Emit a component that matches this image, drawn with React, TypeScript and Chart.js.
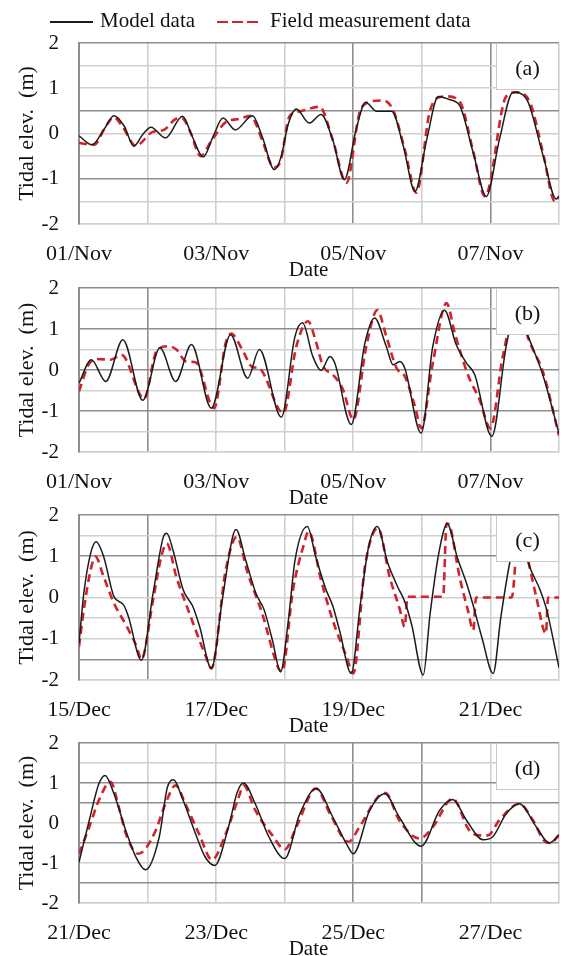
import React, { useEffect, useRef } from "react";
import { Chart, registerables } from "chart.js";

Chart.register(...registerables);

// ---------- data ----------
const X_LABELS_NOV = ["01/Nov", "", "03/Nov", "", "05/Nov", "", "07/Nov", ""];
const X_LABELS_DEC_A = ["15/Dec", "", "17/Dec", "", "19/Dec", "", "21/Dec", ""];
const X_LABELS_DEC_B = ["21/Dec", "", "23/Dec", "", "25/Dec", "", "27/Dec", ""];
const Y_LABELLED = [-2, -1, 0, 1, 2];

const SERIES_NAMES = ["Model data", "Field measurement data"];
const PANEL_TAGS = ["(a)", "(b)", "(c)", "(d)"];

// [day offset, tidal elevation (m)]
const A_MODEL: [number, number][] = [
  [0, -0.05], [0.19, -0.25], [0.36, 0.08], [0.51, 0.39], [0.66, 0.16], [0.8, -0.28],
  [0.93, -0.02], [1.05, 0.14], [1.26, -0.1], [1.51, 0.38], [1.65, -0.06], [1.81, -0.52],
  [1.96, -0.05], [2.1, 0.34], [2.28, 0.08], [2.53, 0.39], [2.67, -0.06], [2.85, -0.8],
  [2.95, -0.5], [3.05, 0.2], [3.17, 0.54], [3.36, 0.23], [3.53, 0.42], [3.7, -0.14],
  [3.87, -1.02], [4.04, 0.08], [4.18, 0.69], [4.34, 0.49], [4.56, 0.49], [4.73, -0.28],
  [4.9, -1.28], [5.07, -0.14], [5.24, 0.82], [5.4, 0.75], [5.55, 0.62], [5.75, -0.43],
  [5.94, -1.39], [6.13, -0.14], [6.33, 0.91], [6.52, 0.78], [6.77, -0.5], [6.96, -1.45],
  [7.0, -1.38],
];
const A_FIELD: [number, number][] = [
  [0, -0.21], [0.22, -0.25], [0.39, 0.16], [0.51, 0.36], [0.63, 0.16], [0.83, -0.27],
  [1.07, 0.03], [1.24, 0.08], [1.41, 0.32], [1.5, 0.34], [1.63, 0.01], [1.77, -0.5],
  [1.94, -0.14], [2.14, 0.25], [2.33, 0.32], [2.5, 0.39], [2.67, -0.14], [2.84, -0.75],
  [2.94, -0.6], [3.07, 0.38], [3.22, 0.49], [3.51, 0.59], [3.7, -0.14], [3.9, -1.09],
  [4.09, 0.45], [4.19, 0.67], [4.43, 0.73], [4.58, 0.52], [4.75, -0.35], [4.92, -1.31],
  [5.11, 0.45], [5.22, 0.78], [5.36, 0.82], [5.55, 0.71], [5.75, -0.4], [5.92, -1.39],
  [6.23, 0.82], [6.38, 0.91], [6.57, 0.71], [6.77, -0.45], [6.94, -1.5], [7.0, -1.42],
];

const B_MODEL: [number, number][] = [
  [0, -0.32], [0.18, 0.25], [0.39, -0.28], [0.64, 0.74], [0.93, -0.74], [1.18, 0.54],
  [1.41, -0.28], [1.64, 0.62], [1.93, -0.93], [2.21, 0.86], [2.46, -0.2], [2.63, 0.5],
  [2.95, -1.15], [3.15, 0.82], [3.26, 1.15], [3.41, 0.33], [3.53, -0.01], [3.66, 0.33],
  [3.73, 0.17], [3.97, -1.33], [4.17, 0.66], [4.31, 1.27], [4.48, 0.58], [4.58, 0.13],
  [4.68, 0.21], [4.75, 0.05], [4.99, -1.54], [5.16, 0.58], [5.33, 1.46], [5.5, 0.62],
  [5.65, 0.17], [5.77, -0.11], [6.02, -1.62], [6.23, 0.58], [6.38, 1.55], [6.55, 0.82],
  [6.77, -0.15], [7.0, -1.55],
];
const B_FIELD: [number, number][] = [
  [0, -0.52], [0.14, 0.13], [0.26, 0.27], [0.46, 0.25], [0.62, 0.37], [0.95, -0.7],
  [1.13, 0.46], [1.3, 0.58], [1.42, 0.5], [1.56, 0.21], [1.7, 0.19], [1.97, -0.93],
  [2.14, 0.66], [2.22, 0.89], [2.38, 0.5], [2.53, 0.07], [2.62, 0.05], [2.98, -1.05],
  [3.17, 0.58], [3.34, 1.19], [3.46, 0.66], [3.56, 0.09], [3.7, -0.11], [3.85, -0.48],
  [4.0, -1.21], [4.19, 0.58], [4.35, 1.46], [4.48, 0.83], [4.63, 0.05], [4.75, -0.15],
  [4.9, -0.89], [4.99, -1.42], [5.16, 0.17], [5.36, 1.63], [5.48, 0.9], [5.67, -0.11],
  [5.84, -0.72], [6.0, -1.42], [6.18, 0.33], [6.4, 1.65], [6.55, 0.78], [6.77, -0.07],
  [7.0, -1.6],
];

const C_MODEL: [number, number][] = [
  [0, -1.11], [0.07, 0.1], [0.17, 1.07], [0.25, 1.35], [0.36, 0.99], [0.51, 0.02],
  [0.65, -0.18], [0.72, -0.46], [0.91, -1.52], [1.08, 0.1], [1.23, 1.47], [1.28, 1.56],
  [1.37, 1.15], [1.52, 0.18], [1.66, -0.22], [1.76, -0.71], [1.93, -1.72], [2.09, -0.06],
  [2.24, 1.47], [2.29, 1.65], [2.43, 0.91], [2.58, 0.1], [2.7, -0.3], [2.82, -1.03],
  [2.94, -1.8], [3.05, -0.6], [3.15, 0.9], [3.33, 1.72], [3.45, 1.0], [3.6, 0.2],
  [3.7, -0.2], [3.8, -0.8], [3.97, -1.84], [4.1, -0.2], [4.22, 1.2], [4.35, 1.72],
  [4.5, 0.85], [4.65, 0.25], [4.75, -0.1], [4.85, -0.65], [5.02, -1.88], [5.12, -0.4],
  [5.25, 1.1], [5.37, 1.78], [5.52, 0.95], [5.65, 0.35], [5.75, -0.2], [5.88, -1.0],
  [6.04, -1.84], [6.15, -0.5], [6.28, 0.83], [6.4, 1.7], [6.57, 0.75], [6.72, 0.2],
  [6.82, -0.3], [7.0, -1.7],
];
const C_FIELD: [number, number][] = [
  [0, -1.19], [0.07, -0.3], [0.17, 0.67], [0.24, 0.99], [0.36, 0.5], [0.51, -0.14],
  [0.7, -0.71], [0.84, -1.19], [0.91, -1.5], [1.08, -0.06], [1.2, 0.99], [1.28, 1.31],
  [1.42, 0.5], [1.61, -0.38], [1.85, -1.43], [1.93, -1.72], [2.14, 0.67], [2.3, 1.47],
  [2.46, 0.59], [2.67, -0.38], [2.91, -1.72], [2.96, -1.8], [3.12, 0.18], [3.27, 1.23],
  [3.35, 1.6], [3.53, 0.42], [3.7, -0.55], [3.9, -1.43], [4.0, -1.84], [4.17, 0.75],
  [4.36, 1.68], [4.53, 0.5], [4.68, -0.3], [4.75, -0.71], [4.79, 0.02], [5.31, 0.02],
  [5.36, 1.8], [5.41, 1.72], [5.55, 0.5], [5.67, -0.3], [5.75, -0.79], [5.79, 0.0],
  [6.31, 0.0], [6.42, 1.8], [6.55, 0.9], [6.67, 0.0], [6.81, -0.87], [6.84, 0.0],
  [7.0, 0.0],
];

const D_MODEL: [number, number][] = [
  [0, -0.98], [0.15, 0.07], [0.29, 0.98], [0.38, 1.19], [0.51, 0.73], [0.68, -0.18],
  [0.83, -0.85], [0.97, -1.17], [1.17, -0.35], [1.29, 0.9], [1.38, 1.08], [1.5, 0.65],
  [1.7, -0.27], [1.84, -0.85], [1.98, -1.06], [2.18, -0.1], [2.31, 0.78], [2.4, 1.0],
  [2.57, 0.48], [2.77, -0.35], [3.0, -0.89], [3.22, 0.23], [3.46, 0.86], [3.7, 0.15],
  [3.9, -0.52], [4.0, -0.77], [4.24, 0.32], [4.46, 0.73], [4.67, 0.15], [4.99, -0.58],
  [5.26, 0.32], [5.45, 0.59], [5.65, 0.07], [5.89, -0.42], [6.03, -0.35], [6.23, 0.23],
  [6.42, 0.48], [6.67, -0.1], [6.86, -0.5], [7.0, -0.3],
];
const D_FIELD: [number, number][] = [
  [0, -0.77], [0.15, -0.1], [0.29, 0.57], [0.46, 1.03], [0.58, 0.4], [0.7, -0.35],
  [0.87, -0.77], [0.97, -0.64], [1.12, -0.18], [1.26, 0.48], [1.41, 0.94], [1.55, 0.48],
  [1.75, -0.27], [1.94, -0.92], [2.14, -0.27], [2.33, 0.65], [2.4, 0.94], [2.57, 0.32],
  [2.82, -0.31], [3.0, -0.66], [3.17, -0.1], [3.41, 0.82], [3.46, 0.86], [3.66, 0.23],
  [3.93, -0.47], [4.09, -0.1], [4.38, 0.69], [4.47, 0.75], [4.67, 0.07], [4.97, -0.39],
  [5.16, -0.1], [5.45, 0.61], [5.69, -0.18], [5.84, -0.31], [5.96, -0.31], [6.13, 0.07],
  [6.42, 0.48], [6.62, 0.07], [6.8, -0.47], [6.88, -0.5], [7.0, -0.3],
];

// ---------- styles ----------
const SERIF = "'Liberation Serif', 'Times New Roman', serif";
const TEXT = "#111111";
const BLACK_LINE = "#1c1c1c";
const RED_LINE = "#d0232a";
const GRID_DARK = "#8e8e8e";
const GRID_LIGHT = "#d0d0d0";
const CLEAR = "rgba(0,0,0,0)";
const X_AXIS_H = 59;
const Y_AXIS_W = 79;

type PanelProps = {
  top: number;
  height: number;
  padTop: number;
  model: [number, number][];
  field: [number, number][];
  labels: string[];
  tag: string;
  legend?: boolean;
  darkX: number[];
  darkY: number[];
};

const near = (arr: number[], v: number) => arr.some((d) => Math.abs(d - v) < 1e-6);

const legendPlugin = {
  id: "topLegend",
  afterDraw(chart: any) {
    const ctx = chart.ctx;
    const names = chart.data.datasets.map((d: any) => d.label);
    ctx.save();
    ctx.font = `21px ${SERIF}`;
    ctx.fillStyle = TEXT;
    ctx.textBaseline = "middle";
    ctx.textAlign = "left";
    ctx.lineWidth = 2;
    ctx.strokeStyle = BLACK_LINE;
    ctx.beginPath();
    ctx.moveTo(50, 22);
    ctx.lineTo(93, 22);
    ctx.stroke();
    ctx.fillText(names[0], 100, 21);
    ctx.strokeStyle = RED_LINE;
    ctx.lineWidth = 2.2;
    ctx.setLineDash([11, 4]);
    ctx.beginPath();
    ctx.moveTo(217, 22);
    ctx.lineTo(259, 22);
    ctx.stroke();
    ctx.setLineDash([]);
    ctx.fillText(names[1], 270, 21);
    ctx.restore();
  },
};

const tagPlugin = (tag: string) => ({
  id: "panelTag",
  afterDatasetsDraw(chart: any) {
    const { ctx, chartArea } = chart;
    const w = 63;
    const h = 47;
    const x = chartArea.right - w;
    const y = chartArea.top;
    ctx.save();
    ctx.fillStyle = "#ffffff";
    ctx.fillRect(x, y, w, h);
    ctx.strokeStyle = "#c8c8c8";
    ctx.lineWidth = 1;
    ctx.strokeRect(x + 0.5, y + 0.5, w - 1, h - 1);
    ctx.fillStyle = TEXT;
    ctx.font = `22px ${SERIF}`;
    ctx.textAlign = "center";
    ctx.textBaseline = "middle";
    ctx.fillText(tag, x + w / 2, y + h / 2 + 3);
    ctx.restore();
  },
});

function Panel(props: PanelProps) {
  const ref = useRef<HTMLCanvasElement>(null);
  useEffect(() => {
    const canvas = ref.current;
    if (!canvas) return;
    const { model, field, labels, tag, legend, padTop, darkX, darkY } = props;
    const plugins: any[] = [tagPlugin(tag)];
    if (legend) plugins.push(legendPlugin);
    const chart = new Chart(canvas, {
      type: "line",
      data: {
        datasets: [
          {
            label: SERIES_NAMES[0],
            data: model.map(([x, y]) => ({ x, y })),
            borderColor: BLACK_LINE,
            borderWidth: 1.5,
            pointRadius: 0,
            cubicInterpolationMode: "monotone",
            fill: false,
          },
          {
            label: SERIES_NAMES[1],
            data: field.map(([x, y]) => ({ x, y })),
            borderColor: RED_LINE,
            borderWidth: 2.6,
            borderDash: [8, 5],
            pointRadius: 0,
            cubicInterpolationMode: "monotone",
            fill: false,
          },
        ],
      },
      options: {
        responsive: false,
        animation: false,
        events: [],
        layout: { padding: { top: padTop, right: 3, left: 0, bottom: 0 } },
        plugins: {
          legend: { display: false },
          tooltip: { enabled: false },
        },
        scales: {
          x: {
            type: "linear",
            min: 0,
            max: 7,
            afterFit: (s: any) => {
              s.height = X_AXIS_H;
            },
            ticks: {
              stepSize: 1,
              autoSkip: false,
              maxRotation: 0,
              minRotation: 0,
              padding: 0,
              color: TEXT,
              font: { family: SERIF, size: 22 },
              callback: (v: any) => labels[Math.round(Number(v))] ?? "",
            },
            grid: {
              drawTicks: true,
              tickLength: 17,
              tickColor: CLEAR,
              lineWidth: 1.6,
              color: (c: any) => (near(darkX, c.tick?.value) ? GRID_DARK : GRID_LIGHT),
            },
            border: { display: true, color: GRID_LIGHT, width: 1.6 },
            title: {
              display: true,
              text: "Date\u2002\u2002",
              color: TEXT,
              font: { family: SERIF, size: 21 },
              padding: { top: 0, bottom: 0 },
            },
          },
          y: {
            type: "linear",
            min: -2,
            max: 2,
            afterFit: (s: any) => {
              s.width = Y_AXIS_W;
            },
            ticks: {
              stepSize: 0.5,
              autoSkip: false,
              padding: 0,
              color: TEXT,
              font: { family: SERIF, size: 21 },
              callback: (v: any) => (near(Y_LABELLED, Number(v)) ? String(Math.round(Number(v))) : ""),
            },
            grid: {
              drawTicks: true,
              tickLength: 20,
              tickColor: CLEAR,
              lineWidth: 1.6,
              color: (c: any) => (near(darkY, c.tick?.value) ? GRID_DARK : GRID_LIGHT),
            },
            border: { display: true, color: GRID_DARK, width: 2 },
            title: {
              display: true,
              text: "Tidal elev.  (m)",
              color: TEXT,
              font: { family: SERIF, size: 22 },
              padding: { top: 14, bottom: 0 },
            },
          },
        },
      } as any,
      plugins,
    });
    return () => chart.destroy();
  }, []);
  return (
    <canvas
      ref={ref}
      width={562}
      height={props.height}
      style={{ position: "absolute", left: 0, top: props.top, display: "block" }}
    />
  );
}

export default function App() {
  return (
    <div
      style={{
        position: "absolute",
        left: 0,
        top: 0,
        width: 562,
        height: 956,
        overflow: "hidden",
        background: "#ffffff",
      }}
    >
      <Panel top={0} height={283} padTop={43} model={A_MODEL} field={A_FIELD} labels={X_LABELS_NOV}
        tag={PANEL_TAGS[0]} legend darkX={[0, 4, 6]} darkY={[2, 0.5, -1]} />
      <Panel top={275} height={236} padTop={13} model={B_MODEL} field={B_FIELD} labels={X_LABELS_NOV}
        tag={PANEL_TAGS[1]} darkX={[0, 1, 6]} darkY={[2, 1, 0, -1]} />
      <Panel top={502} height={237} padTop={13} model={C_MODEL} field={C_FIELD} labels={X_LABELS_DEC_A}
        tag={PANEL_TAGS[2]} darkX={[0, 1]} darkY={[2, 1, -1.5]} />
      <Panel top={730} height={232} padTop={13} model={D_MODEL} field={D_FIELD} labels={X_LABELS_DEC_B}
        tag={PANEL_TAGS[3]} darkX={[0, 4, 5]} darkY={[2, 1, 0.5, -0.5, -1.5]} />
    </div>
  );
}
